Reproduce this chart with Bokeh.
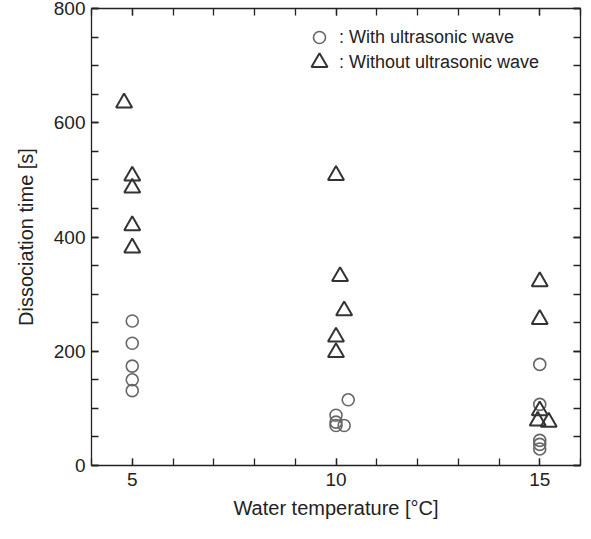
from bokeh.plotting import figure
from bokeh.models import FixedTicker, LinearAxis, Range1d, Legend, LegendItem
from bokeh.embed import file_html
from bokeh.resources import INLINE

# ---- data ----
with_temp = [5, 5, 5, 5, 5, 10.3, 10, 10, 10, 10.2, 15, 15, 15, 15, 15]
with_time = [253, 214, 174, 150, 131, 115, 88, 76, 70, 70, 177, 107, 44, 37, 29]
without_temp = [4.8, 5, 5, 5, 5, 10, 10.1, 10.2, 10, 10, 15, 15, 15, 14.95, 15.22]
without_time = [635, 507, 486, 420, 381, 508, 331, 271, 225, 198, 322, 256, 96, 78, 76]
x_ticks = [5, 10, 15]
x_minor = list(range(4, 17))
y_ticks = [0, 200, 400, 600, 800]
y_minor = list(range(0, 801, 50))
label_with = ": With ultrasonic wave"
label_without = ": Without ultrasonic wave"

FONT = "Liberation Sans"
AX = "#222222"

p = figure(width=583, height=530, x_range=Range1d(4, 16), y_range=Range1d(0, 800),
           output_backend="svg", toolbar_location=None,
           min_border_left=91, min_border_right=3, min_border_top=8, min_border_bottom=65,
           x_axis_label="Water temperature [°C]", y_axis_label="Dissociation time [s]")
p.grid.visible = False
p.outline_line_color = None
p.background_fill_color = "white"

def style_axis(ax, ticks, minor, show_labels):
    ax.ticker = FixedTicker(ticks=ticks, minor_ticks=minor)
    ax.axis_line_color = AX
    ax.axis_line_width = 1.3
    ax.major_tick_line_color = AX
    ax.minor_tick_line_color = AX
    ax.major_tick_line_width = 1.3
    ax.minor_tick_line_width = 1.3
    ax.major_tick_in = 7
    ax.major_tick_out = 0
    ax.minor_tick_in = 7
    ax.minor_tick_out = 0
    if show_labels:
        ax.major_label_text_font = FONT
        ax.major_label_text_font_size = "19px"
        ax.major_label_text_color = AX
        ax.axis_label_text_font = FONT
        ax.axis_label_text_font_size = "20px"
        ax.axis_label_text_font_style = "normal"
        ax.axis_label_text_color = AX
    else:
        ax.major_label_text_font_size = "0px"
        ax.major_label_standoff = 0

style_axis(p.xaxis[0], x_ticks, x_minor, True)
style_axis(p.yaxis[0], y_ticks, y_minor, True)
p.xaxis[0].major_label_standoff = 7
p.xaxis[0].axis_label_standoff = 8
p.yaxis[0].major_label_standoff = 6
p.yaxis[0].axis_label_standoff = 14

top = LinearAxis()
right = LinearAxis()
style_axis(top, x_ticks, x_minor, False)
style_axis(right, y_ticks, y_minor, False)
p.add_layout(top, "above")
p.add_layout(right, "right")

r_with = p.scatter(with_temp, with_time, marker="circle", size=12,
                   fill_color=None, line_color="#666666", line_width=1.6)
r_without = p.scatter(without_temp, without_time, marker="triangle", size=16,
                      fill_color=None, line_color="#333333", line_width=2)

def make_legend(item_label, renderer, gsize, loc, standoff):
    lg = Legend(items=[LegendItem(label=item_label, renderers=[renderer])],
                location=loc, padding=0, margin=0, spacing=0,
                glyph_width=gsize, glyph_height=gsize, label_standoff=standoff,
                background_fill_alpha=0, border_line_color=None,
                label_text_font=FONT, label_text_font_size="18px", label_text_color=AX)
    p.add_layout(lg)

make_legend(label_with, r_with, 30, (213, 413), 5)
make_legend(label_without, r_without, 40, (208, 383), 0)

open("out.html", "w").write(file_html(p, INLINE))
